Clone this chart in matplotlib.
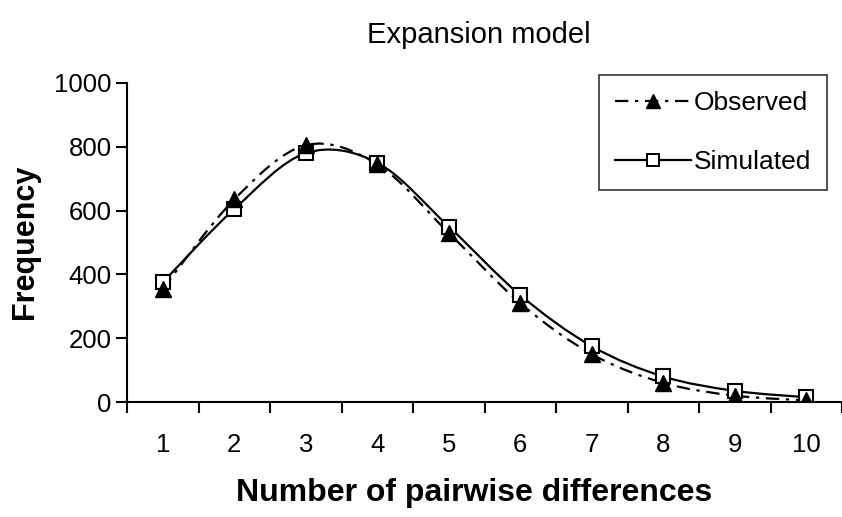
import numpy as np
import matplotlib
matplotlib.use("Agg")
import matplotlib.pyplot as plt
from matplotlib.path import Path
from matplotlib.patches import PathPatch

plt.rcParams['font.family'] = ['Liberation Sans', 'DejaVu Sans']

# data
categories = [1, 2, 3, 4, 5, 6, 7, 8, 9, 10]
observed   = [355, 635, 805, 745, 530, 310, 150, 60, 20, 5]
simulated  = [375, 605, 780, 750, 550, 335, 175, 80, 35, 15]


def smooth_path(x, y, t=1/6):
    # Excel-like smoothed line: bezier segments through the points
    x = np.asarray(x, float)
    y = np.asarray(y, float)
    pts = np.column_stack([x, y])
    verts = [pts[0]]
    codes = [Path.MOVETO]
    n = len(pts)
    for i in range(n - 1):
        p0 = pts[i - 1] if i > 0 else pts[i]
        p1 = pts[i]
        p2 = pts[i + 1]
        p3 = pts[i + 2] if i + 2 < n else pts[i + 1]
        c1 = p1 + (p2 - p0) * t
        c2 = p2 - (p3 - p1) * t
        verts += [c1, c2, p2]
        codes += [Path.CURVE4] * 3
    return Path(verts, codes)


dashdot = (0, (6, 3, 1.5, 3))

fig = plt.figure(figsize=(8.42, 5.17), dpi=100)
ax = fig.add_axes([127/842, 1 - 402/517, 715/842, 319/517])

ax.add_patch(PathPatch(smooth_path(categories, observed), fill=False,
                       lw=1.6, ls=dashdot, color='black'))
ax.add_patch(PathPatch(smooth_path(categories, simulated), fill=False,
                       lw=1.6, color='black'))
ax.plot(categories, simulated, ls='none', marker='s', ms=10, mfc='white',
        mec='black', mew=1.5)
ax.plot(categories, observed, ls='none', marker='^', ms=11, color='black')

# legend handles
ax.plot([], [], ls=dashdot, lw=1.6, color='black', marker='^',
        ms=10, label='Observed')
ax.plot([], [], ls='-', lw=1.6, color='black', marker='s', ms=8, mfc='white',
        mec='black', mew=1.4, label='Simulated')
handles, labels = ax.get_legend_handles_labels()
leg = ax.legend(handles, labels, loc='upper right', bbox_to_anchor=(0.979, 1.025),
                fontsize=19, frameon=True, fancybox=False, edgecolor='black',
                handlelength=2.9, handletextpad=0.1, labelspacing=1.35,
                borderpad=0.6, borderaxespad=0)
leg.get_frame().set_linewidth(1.2)

ax.set_xlim(0.5, 0.5 + 715/72)
ax.set_ylim(0, 1000)
ax.set_yticks([0, 200, 400, 600, 800, 1000])
ax.set_xticks(categories)
ax.set_xticks(np.arange(0.5, 11, 1), minor=True)
ax.tick_params(axis='x', which='major', length=0, pad=22, labelsize=18.5)
ax.tick_params(axis='x', which='minor', length=8, width=1.5, direction='out')
ax.tick_params(axis='y', length=8, width=1.5, direction='out', labelsize=18.5, pad=3)

for s in ['top', 'right']:
    ax.spines[s].set_visible(False)
for s in ['left', 'bottom']:
    ax.spines[s].set_linewidth(1.5)

fig.text(474/842, 1 - 493/517, 'Number of pairwise differences', ha='center',
         va='center', fontsize=23, fontweight='bold')
fig.text(25/842, 1 - 242/517, 'Frequency', ha='center', va='center',
         rotation=90, fontsize=22, fontweight='bold')
fig.text(479/842, 1 - 35/517, 'Expansion model', ha='center', va='center', fontsize=21)

fig.savefig('out.png', dpi=100)
